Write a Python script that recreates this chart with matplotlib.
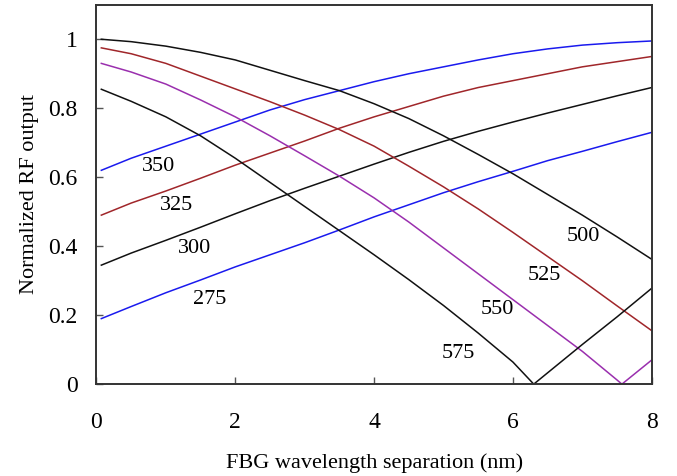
import matplotlib
matplotlib.use("Agg")
import matplotlib.pyplot as plt

plt.rcParams["font.family"] = ["Liberation Serif", "DejaVu Serif"]
plt.rcParams["font.size"] = 16

x = [0.07, 0.5, 1.0, 1.5, 2.0, 2.5, 3.0, 3.5, 4.0, 4.5, 5.0, 5.5, 6.0, 6.5, 7.0, 7.5, 8.0]

# rising curves
y275 = [0.19, 0.225, 0.265, 0.302, 0.34, 0.375, 0.41, 0.447, 0.485, 0.52, 0.555, 0.587, 0.617, 0.648, 0.675, 0.703, 0.73]
y300 = [0.345, 0.38, 0.417, 0.455, 0.494, 0.532, 0.568, 0.603, 0.638, 0.672, 0.704, 0.733, 0.76, 0.786, 0.811, 0.836, 0.86]
y325 = [0.49, 0.525, 0.56, 0.597, 0.635, 0.67, 0.705, 0.742, 0.775, 0.805, 0.835, 0.86, 0.88, 0.90, 0.92, 0.935, 0.95]
y350 = [0.62, 0.655, 0.69, 0.725, 0.76, 0.795, 0.825, 0.851, 0.877, 0.90, 0.92, 0.94, 0.958, 0.972, 0.983, 0.99, 0.995]

# falling curves
y500 = [1.0, 0.993, 0.98, 0.962, 0.94, 0.91, 0.88, 0.851, 0.813, 0.77, 0.72, 0.666, 0.61, 0.55, 0.49, 0.427, 0.362]
y525 = [0.975, 0.958, 0.93, 0.893, 0.856, 0.819, 0.78, 0.738, 0.69, 0.632, 0.572, 0.508, 0.44, 0.37, 0.30, 0.227, 0.155]
x550 = [0.07, 0.5, 1.0, 1.5, 2.0, 2.5, 3.0, 3.5, 4.0, 4.5, 5.0, 5.5, 6.0, 6.5, 7.0, 7.5, 7.57, 8.0]
y550 = [0.93, 0.905, 0.87, 0.824, 0.775, 0.72, 0.662, 0.603, 0.54, 0.47, 0.395, 0.32, 0.245, 0.17, 0.095, 0.012, 0.0, 0.07]
x575 = [0.07, 0.5, 1.0, 1.5, 2.0, 2.5, 3.0, 3.5, 4.0, 4.5, 5.0, 5.5, 6.0, 6.3, 7.0, 7.5, 8.0]
y575 = [0.855, 0.82, 0.775, 0.72, 0.655, 0.585, 0.515, 0.445, 0.375, 0.303, 0.228, 0.148, 0.064, 0.0, 0.115, 0.195, 0.278]

labels = ["350", "325", "300", "275", "500", "525", "550", "575"]
label_x = [0.89, 1.15, 1.42, 1.63, 7.02, 6.46, 5.77, 5.22]
label_y = [0.632, 0.519, 0.394, 0.244, 0.427, 0.316, 0.215, 0.089]

blue = "#1a1aee"
red = "#a0262a"
purple = "#9a2fae"
black = "#111111"

fig = plt.figure(figsize=(6.77, 4.76), dpi=100)
ax = fig.add_axes([0.1425, 0.193, 0.8202, 0.797])

ax.plot(x, y275, color=blue, lw=1.1)
ax.plot(x, y300, color=black, lw=1.1)
ax.plot(x, y325, color=red, lw=1.1)
ax.plot(x, y350, color=blue, lw=1.1)
ax.plot(x, y500, color=black, lw=1.1)
ax.plot(x, y525, color=red, lw=1.1)
ax.plot(x550, y550, color=purple, lw=1.1)
ax.plot(x575, y575, color=black, lw=1.1)

for t, lx, ly in zip(labels, label_x, label_y):
    ax.text(lx, ly, t, ha="center", va="center", fontsize=16)

ax.set_xlim(0, 8)
ax.set_ylim(0, 1.1)
ax.set_xticks([0, 2, 4, 6, 8])
ax.set_xticklabels(["0", "2", "4", "6", "8"])
ax.set_yticks([0, 0.2, 0.4, 0.6, 0.8, 1.0])
ax.set_yticklabels(["0", "0.2", "0.4", "0.6", "0.8", "1"])
ax.tick_params(direction="in", length=5, width=1, color="#555555", labelsize=17)
ax.tick_params(axis="x", pad=20)
ax.tick_params(axis="y", pad=13.5)
for s in ax.spines.values():
    s.set_linewidth(1.4)
    s.set_color("#333333")

ax.set_xlabel("FBG wavelength separation (nm)", labelpad=15)
ax.set_ylabel("Normalized RF output", labelpad=7)

fig.savefig("out.png", dpi=100)
